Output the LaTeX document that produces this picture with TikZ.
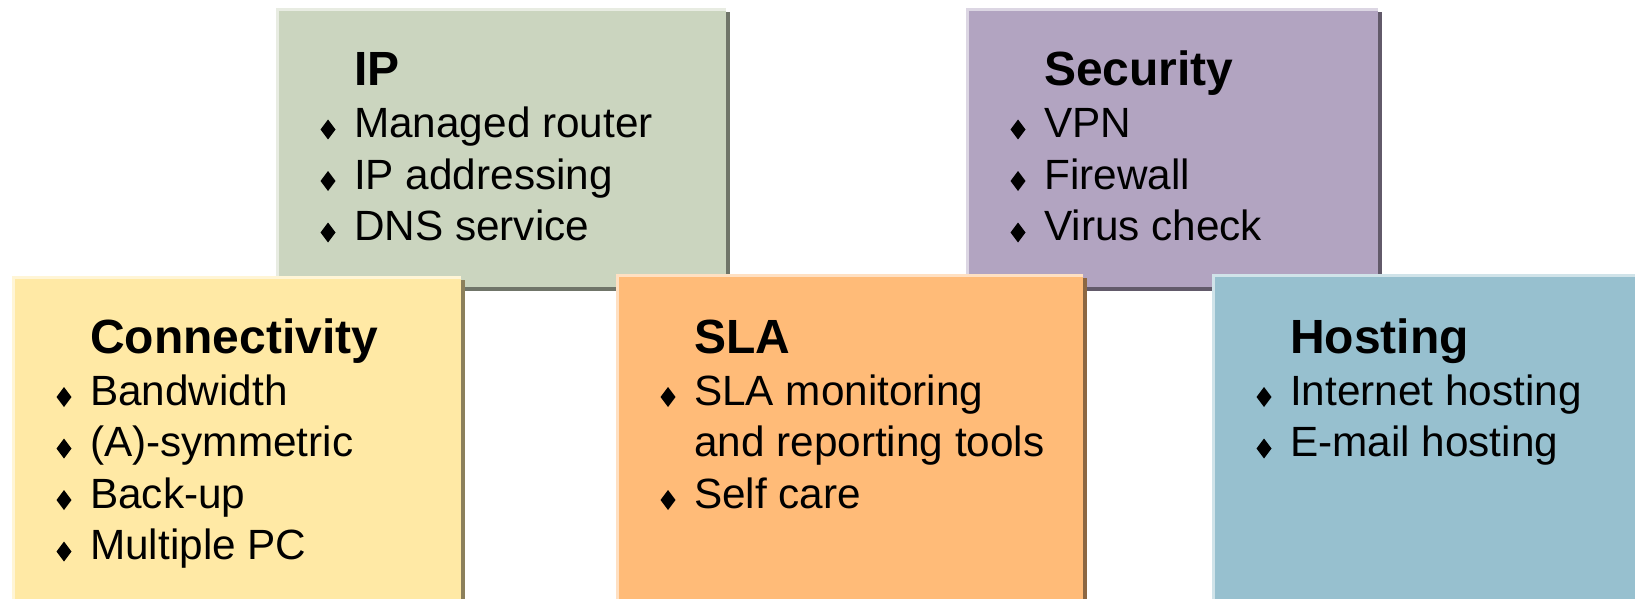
\documentclass[tikz,border=0pt]{standalone}
\usepackage{fontspec}
\setmainfont{Liberation Sans}
\definecolor{ipc}{HTML}{CBD5BF}
\definecolor{conc}{HTML}{FFE9A5}
\definecolor{slac}{HTML}{FFBB78}
\definecolor{secc}{HTML}{B2A4C1}
\definecolor{hosc}{HTML}{97C0CF}
\newcommand\mypanel[6]{%
  \fill[#2!55!black] (#3+4,#4+4) rectangle (#5+4,#6+4);
  \fill[#2] (#3,#4) rectangle (#5,#6);
  \fill[#2!45!white] (#3,#4) rectangle (#5,#4+3);
  \fill[#2!45!white] (#3,#4) rectangle (#3+3,#6);
  \coordinate (#1) at (#3,#4);
}
\newcommand\mybul[2]{\fill[black] (#1-7.5,#2-8) -- (#1,#2-18) -- (#1+7.5,#2-8) -- (#1,#2+2) -- cycle;}
\begin{document}
\begin{tikzpicture}[x=1pt,y=-1pt,
  ttl/.style={anchor=base west, inner sep=0pt, font=\fontsize{48}{57}\selectfont\bfseries},
  itm/.style={anchor=base west, inner sep=0pt, font=\fontsize{42.3}{51}\selectfont}]
\useasboundingbox (0,0) rectangle (1635,599);
\fill[white] (0,0) rectangle (1635,599);
\clip (0,0) rectangle (1635,599);
% top row
\mypanel{ipbox}{ipc}{276}{8}{726}{287}
\node[ttl] (ipt) at (354,86) {IP};
\mybul{328}{137.5}\node[itm] (ip1) at (354,137.5) {Managed router};
\mybul{328}{189}\node[itm] (ip2) at (354,189) {IP addressing};
\mybul{328}{240.5}\node[itm] (ip3) at (354,240.5) {DNS service};
\mypanel{secbox}{secc}{966}{8}{1378}{287}
\node[ttl] (sect) at (1044,86) {Security};
\mybul{1018}{137.5}\node[itm] (sec1) at (1044,137.5) {VPN};
\mybul{1018}{189}\node[itm] (sec2) at (1044,189) {Firewall};
\mybul{1018}{240.5}\node[itm] (sec3) at (1044,240.5) {Virus check};
% bottom row
\mypanel{conbox}{conc}{12}{276}{461}{610}
\node[ttl] (cont) at (90,353) {Connectivity};
\mybul{64}{405}\node[itm] (con1) at (90,405) {Bandwidth};
\mybul{64}{456.5}\node[itm] (con2) at (90,456.5) {(A)-symmetric};
\mybul{64}{508}\node[itm] (con3) at (90,508) {Back-up};
\mybul{64}{559.5}\node[itm] (con4) at (90,559.5) {Multiple PC};
\mypanel{slabox}{slac}{616}{274}{1083}{610}
\node[ttl] (slat) at (694,353) {SLA};
\mybul{668}{405}\node[itm] (sla1) at (694,405) {SLA monitoring};
\node[itm] (sla2) at (694,456.5) {and reporting tools};
\mybul{668}{508}\node[itm] (sla3) at (694,508) {Self care};
\mypanel{hosbox}{hosc}{1212}{274}{1650}{610}
\node[ttl] (host) at (1290,353) {Hosting};
\mybul{1264}{405}\node[itm] (hos1) at (1290,405) {Internet hosting};
\mybul{1264}{456.5}\node[itm] (hos2) at (1290,456.5) {E-mail hosting};
\end{tikzpicture}
\end{document}
